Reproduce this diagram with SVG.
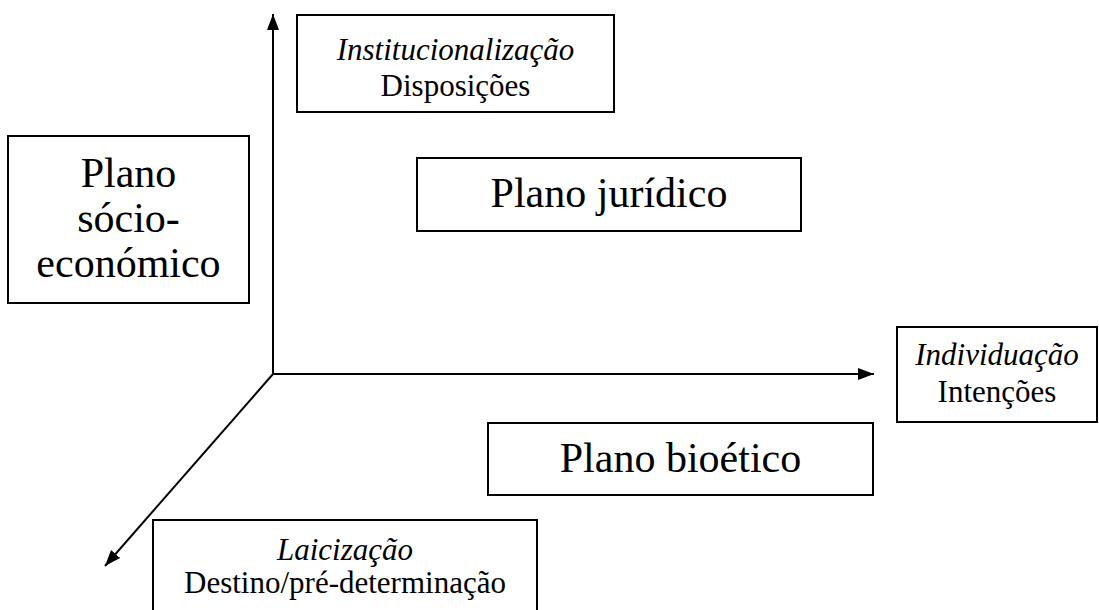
<svg xmlns="http://www.w3.org/2000/svg" width="1099" height="610" viewBox="0 0 1099 610">
<style>
.box{fill:#fff;stroke:#000;stroke-width:2}
.ax{stroke:#000;stroke-width:2;fill:none}
text{font-family:'Liberation Serif','DejaVu Serif',serif;fill:#000;text-anchor:middle}
.s{font-size:31px}
.l{font-size:42px}
.i{font-style:italic}
</style>
<defs>
<marker id="ah" viewBox="0 0 16 12" refX="16" refY="6" markerWidth="16" markerHeight="12" markerUnits="userSpaceOnUse" orient="auto">
<path d="M0,0 L16,6 L0,12 Z" fill="#000"/>
</marker>
</defs>
<rect width="1099" height="610" fill="#fff"/>
<g id="connectors">
<line class="ax" x1="273" y1="375" x2="273" y2="14" marker-end="url(#ah)"/>
<line class="ax" x1="272" y1="374" x2="874" y2="374" marker-end="url(#ah)"/>
<line class="ax" x1="273" y1="374" x2="105" y2="566" marker-end="url(#ah)"/>
</g>
<g id="institucionalizacao" font-family="Liberation Serif, serif">
<rect class="box" x="297" y="15" width="317" height="97"/>
<text class="s i" x="455.5" y="60">Institucionalização</text>
<text class="s" x="455.5" y="96">Disposições</text>
</g>
<g id="socioeconomico" font-family="Liberation Serif, serif">
<rect class="box" x="8" y="136" width="241" height="167"/>
<text class="l" x="128.5" y="187">Plano</text>
<text class="l" x="128.5" y="232">sócio-</text>
<text class="l" x="128.5" y="277">económico</text>
</g>
<g id="juridico" font-family="Liberation Serif, serif">
<rect class="box" x="417" y="158" width="384" height="73"/>
<text class="l" x="609" y="207">Plano jurídico</text>
</g>
<g id="individuacao" font-family="Liberation Serif, serif">
<rect class="box" x="897" y="327" width="200" height="95"/>
<text class="s i" x="997" y="365">Individuação</text>
<text class="s" x="997" y="402">Intenções</text>
</g>
<g id="bioetico" font-family="Liberation Serif, serif">
<rect class="box" x="488" y="423" width="385" height="72"/>
<text class="l" x="680.5" y="472">Plano bioético</text>
</g>
<g id="laicizacao" font-family="Liberation Serif, serif">
<rect class="box" x="153" y="520" width="384" height="110"/>
<text class="s i" x="345" y="560">Laicização</text>
<text class="s" x="345" y="593">Destino/pré-determinação</text>
</g>
</svg>
